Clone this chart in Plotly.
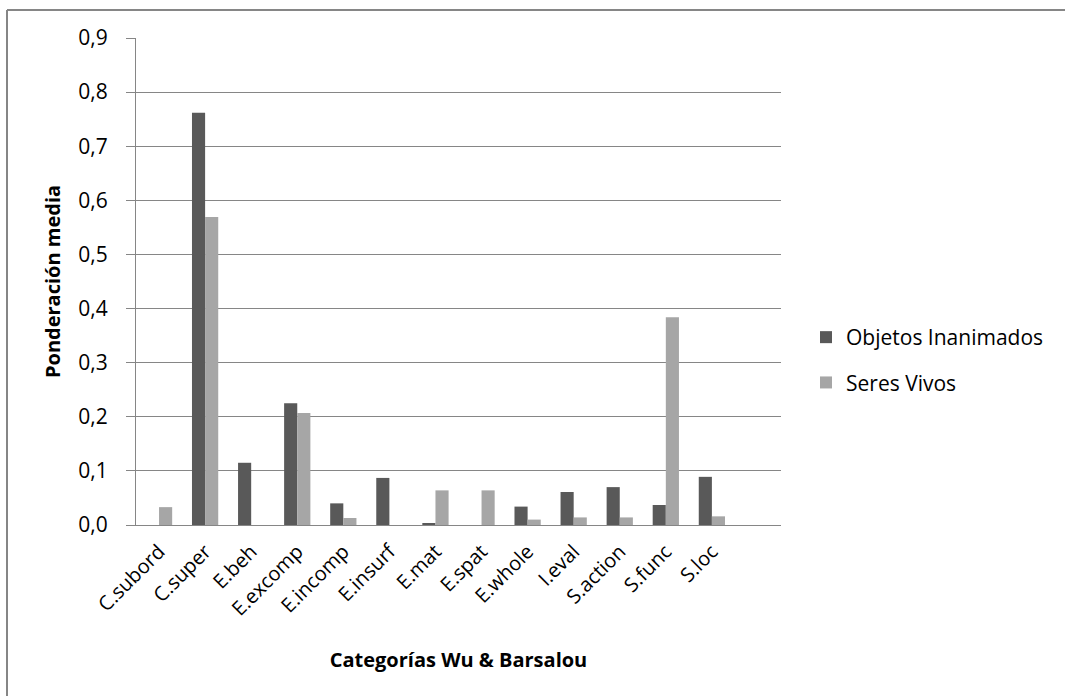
import plotly.graph_objects as go

# Mean weighting per Wu & Barsalou category
categories = ["C.subord", "C.super", "E.beh", "E.excomp", "E.incomp", "E.insurf",
              "E.mat", "E.spat", "E.whole", "I.eval", "S.action", "S.func", "S.loc"]
objetos_inanimados = [0.0, 0.762, 0.115, 0.225, 0.040, 0.087,
                      0.002, 0.0, 0.034, 0.061, 0.070, 0.037, 0.089]
seres_vivos = [0.033, 0.569, 0.0, 0.207, 0.013, 0.0,
               0.064, 0.064, 0.010, 0.014, 0.014, 0.384, 0.016]
y_ticks = [0.0, 0.1, 0.2, 0.3, 0.4, 0.5, 0.6, 0.7, 0.8, 0.9]

FONT = "Open Sans, Carlito, Lato, sans-serif"
W, H = 1065, 696
L, R, T, B = 136, 284, 38, 171

fig = go.Figure()
fig.add_trace(go.Bar(x=categories, y=objetos_inanimados, name="Objetos Inanimados",
                     marker=dict(color="#595959", line=dict(width=0)),
                     legendgroup="a"))
fig.add_trace(go.Bar(x=categories, y=seres_vivos, name="Seres Vivos",
                     marker=dict(color="#a6a6a6", line=dict(width=0)),
                     legendgroup="b"))

plot_w = W - L - R
plot_h = H - T - B

def px_to_paper_x(px):
    return (px - L) / plot_w

def px_to_paper_y(py):
    return (H - B - py) / plot_h

border = dict(color="#868686", width=2)

fig.update_layout(
    width=W, height=H,
    margin=dict(l=L, r=R, t=T, b=B, pad=0),
    paper_bgcolor="white", plot_bgcolor="white",
    separators=",.",
    barmode="group", bargap=0.43, bargroupgap=0,
    font=dict(family=FONT, size=21, color="#000000"),
    showlegend=True,
    legend=dict(x=px_to_paper_x(806), y=px_to_paper_y(317), xanchor="left", yanchor="top",
                font=dict(family=FONT, size=21, color="#000000"),
                tracegroupgap=15, itemwidth=30, bgcolor="rgba(0,0,0,0)"),
    xaxis=dict(
        type="category", range=[-0.5, 13.5],
        tickangle=-45, showgrid=False, ticks="",
        showline=True, linecolor="#868686", linewidth=1,
        ticklabelstandoff=6,
        tickfont=dict(family=FONT, size=20, color="#000000"),
        title=dict(text="<b>Categorías Wu &amp; Barsalou</b>", standoff=32,
                   font=dict(family=FONT, size=20, color="#000000")),
    ),
    yaxis=dict(
        range=[0, 0.9], tickvals=y_ticks, tickformat=".1f",
        showgrid=True, gridcolor="#868686", gridwidth=1,
        showline=True, linecolor="#868686", linewidth=1,
        ticks="outside", ticklen=9, tickcolor="#868686",
        ticklabelstandoff=14,
        zeroline=False,
        tickfont=dict(family=FONT, size=21, color="#000000"),
        title=dict(text="<b>Ponderación media</b>", standoff=12,
                   font=dict(family=FONT, size=20, color="#000000")),
    ),
    shapes=[
        dict(type="line", xref="paper", yref="paper",
             x0=px_to_paper_x(7), x1=px_to_paper_x(1075),
             y0=px_to_paper_y(10), y1=px_to_paper_y(10), line=border),
        dict(type="line", xref="paper", yref="paper",
             x0=px_to_paper_x(7), x1=px_to_paper_x(7),
             y0=px_to_paper_y(10), y1=px_to_paper_y(700), line=border),
    ],
)

fig.write_html("out.html", config={"displayModeBar": False})
